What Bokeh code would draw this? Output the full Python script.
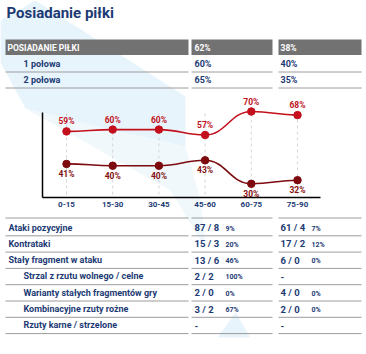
from bokeh.plotting import figure
from bokeh.models import Range1d
from bokeh.core.properties import value
from bokeh.embed import file_html
from bokeh.resources import INLINE

# ---------------- data ----------------
title = "Posiadanie piłki"
header = ["POSIADANIE PIŁKI", "62%", "38%"]
half_labels = ["1 połowa", "2 połowa"]
half_a = ["60%", "65%"]
half_b = ["40%", "35%"]

periods = ["0-15", "15-30", "30-45", "45-60", "60-75", "75-90"]
poss_a = [59, 60, 60, 57, 70, 68]
poss_b = [41, 40, 40, 43, 30, 32]

stat_labels = ["Ataki pozycyjne", "Kontrataki", "Stały fragment w ataku",
               "Strzal z rzutu wolnego / celne", "Warianty stałych fragmentów gry",
               "Kombinacyjne rzuty rożne", "Rzuty karne / strzelone"]
stat_indent = [False, False, False, True, True, True, True]
stat_a = ["87 / 8", "15 / 3", "13 / 6", "2 / 2", "2 / 0", "3 / 2", "-"]
stat_a_pct = ["9%", "20%", "46%", "100%", "0%", "67%", ""]
stat_b = ["61 / 4", "17 / 2", "6 / 0", "-", "4 / 0", "2 / 0", "-"]
stat_b_pct = ["7%", "12%", "0%", "", "0%", "0%", ""]

# ---------------- style / layout ----------------
W, H = 366, 354
FONT = value("Roboto")
NAVY = "#1c3a74"
GREY_BAR = "#727272"
SEP = "#9c9c9c"
RED_A = "#c3101c"
RED_B = "#7c0a0e"
LBL_A = "#c0121e"
LBL_B = "#85100f"

COLS = [(5, 188), (191, 272), (278, 361)]
XA, XB = 194, 280
XA_P, XB_P = 225, 311

p = figure(width=W, height=H, output_backend="svg", toolbar_location=None,
           x_range=Range1d(0, W), y_range=Range1d(H, 0),
           x_axis_type=None, y_axis_type=None, min_border=0,
           outline_line_color=None, background_fill_color="white",
           border_fill_color="white")
p.grid.visible = False

# chart scales (category index -> px, percent -> px)
CX0, CDX = 66.0, 46.2
PV, PY, PS = 70.0, 111.0, 1.8075
p.extra_x_ranges = {"cx": Range1d(-CX0 / CDX, (W - CX0) / CDX)}
p.extra_y_ranges = {"cy": Range1d(PV - (H - PY) / PS, PV + PY / PS)}

# background swoosh decoration
p.patches(xs=[[0, 35, 185, 185, 95, 25, 0],
              [25, 95, 185, 200, 206, 170],
              [217, 235, 250]],
          ys=[[20, 0, 96, 146, 126, 108, 62],
              [108, 126, 146, 200, 250, 190],
              [337, 312, 337]],
          fill_color=["#e8f4fb", "#f0f8fc", "#e8f4fb"], line_color=None)

# title
p.text(x=[6], y=[12], text=[title], text_font=FONT, text_font_size="15px",
       text_font_style="bold", text_color=NAVY, text_baseline="middle")

# header bar
p.quad(left=[c[0] for c in COLS], right=[c[1] for c in COLS],
       top=[39] * 3, bottom=[54.5] * 3, fill_color=GREY_BAR, line_color=None)
p.text(x=[7, XA, XB], y=[47] * 3, text=header, text_font=FONT,
       text_font_size="8.5px", text_font_style="bold", text_color="white",
       text_baseline="middle")

# halves rows
half_y = [63, 79]
half_sep = [71.5, 87.5]
for xs_, txt in [([23] * 2, half_labels), ([XA] * 2, half_a), ([XB] * 2, half_b)]:
    p.text(x=xs_, y=half_y, text=txt, text_font=FONT, text_font_size="9px",
           text_font_style="bold", text_color=NAVY, text_baseline="middle")
sx0, sx1, sy = [], [], []
for yy in half_sep:
    for c in COLS:
        sx0.append(c[0]); sx1.append(c[1]); sy.append(yy)

# chart: gridlines
idx = list(range(len(periods)))
p.segment(x0=idx, x1=idx, y0=[113] * len(idx), y1=[197] * len(idx),
          x_range_name="cx", line_color="#d6d6d6", line_width=1, line_dash="3 3")
# axes lines
p.segment(x0=[42, 42], y0=[112, 197], x1=[42, 320], y1=[197, 197],
          line_color="black", line_width=1.5)
# category labels
p.text(x=idx, y=[203.5] * len(idx), text=periods, x_range_name="cx",
       text_font=FONT, text_font_size="8px", text_font_style="bold",
       text_color=NAVY, text_align="center", text_baseline="middle")


def spline(vals, color):
    x0 = idx[:-1]; x1 = idx[1:]
    y0 = vals[:-1]; y1 = vals[1:]
    p.bezier(x0=x0, y0=y0, x1=x1, y1=y1,
             cx0=[a + 0.45 for a in x0], cy0=y0,
             cx1=[b - 0.45 for b in x1], cy1=y1,
             x_range_name="cx", y_range_name="cy",
             line_color=color, line_width=1.6)


spline(poss_a, RED_A)
spline(poss_b, RED_B)
p.scatter(x=idx, y=poss_a, size=7.5, fill_color=RED_A, line_color=RED_A,
          x_range_name="cx", y_range_name="cy")
p.scatter(x=idx, y=poss_b, size=7.5, fill_color=RED_B, line_color=RED_B,
          x_range_name="cx", y_range_name="cy")
p.text(x=idx, y=poss_a, text=[f"{v}%" for v in poss_a], x_range_name="cx",
       y_range_name="cy", y_offset=-5, text_font=FONT, text_font_size="8.5px",
       text_font_style="bold", text_color=LBL_A, text_align="center",
       text_baseline="bottom")
p.text(x=idx, y=poss_b, text=[f"{v}%" for v in poss_b], x_range_name="cx",
       y_range_name="cy", y_offset=5, text_font=FONT, text_font_size="8.5px",
       text_font_style="bold", text_color=LBL_B, text_align="center",
       text_baseline="top")

# bottom stats table
ROW0, ROWH = 227.0, 16.3
stat_y = [ROW0 + ROWH * i for i in range(len(stat_labels))]
for yy in [217.5] + [y + 8.3 for y in stat_y]:
    for c in COLS:
        sx0.append(c[0]); sx1.append(c[1]); sy.append(yy)
p.segment(x0=sx0, x1=sx1, y0=sy, y1=sy, line_color=SEP, line_width=1)

p.text(x=[23 if ind else 8 for ind in stat_indent], y=stat_y, text=stat_labels,
       text_font=FONT, text_font_size="9px", text_font_style="bold",
       text_color=NAVY, text_baseline="middle")
p.text(x=[XA] * len(stat_y), y=stat_y, text=stat_a, text_font=FONT,
       text_font_size="9.5px", text_font_style="bold", text_color=NAVY,
       text_baseline="middle")
p.text(x=[XB] * len(stat_y), y=stat_y, text=stat_b, text_font=FONT,
       text_font_size="9.5px", text_font_style="bold", text_color=NAVY,
       text_baseline="middle")
p.text(x=[XA_P] * len(stat_y), y=[y + 1 for y in stat_y], text=stat_a_pct,
       text_font=FONT, text_font_size="7px", text_font_style="bold",
       text_color=NAVY, text_baseline="middle")
p.text(x=[XB_P] * len(stat_y), y=[y + 1 for y in stat_y], text=stat_b_pct,
       text_font=FONT, text_font_size="7px", text_font_style="bold",
       text_color=NAVY, text_baseline="middle")

open("out.html", "w").write(file_html(p, INLINE))
